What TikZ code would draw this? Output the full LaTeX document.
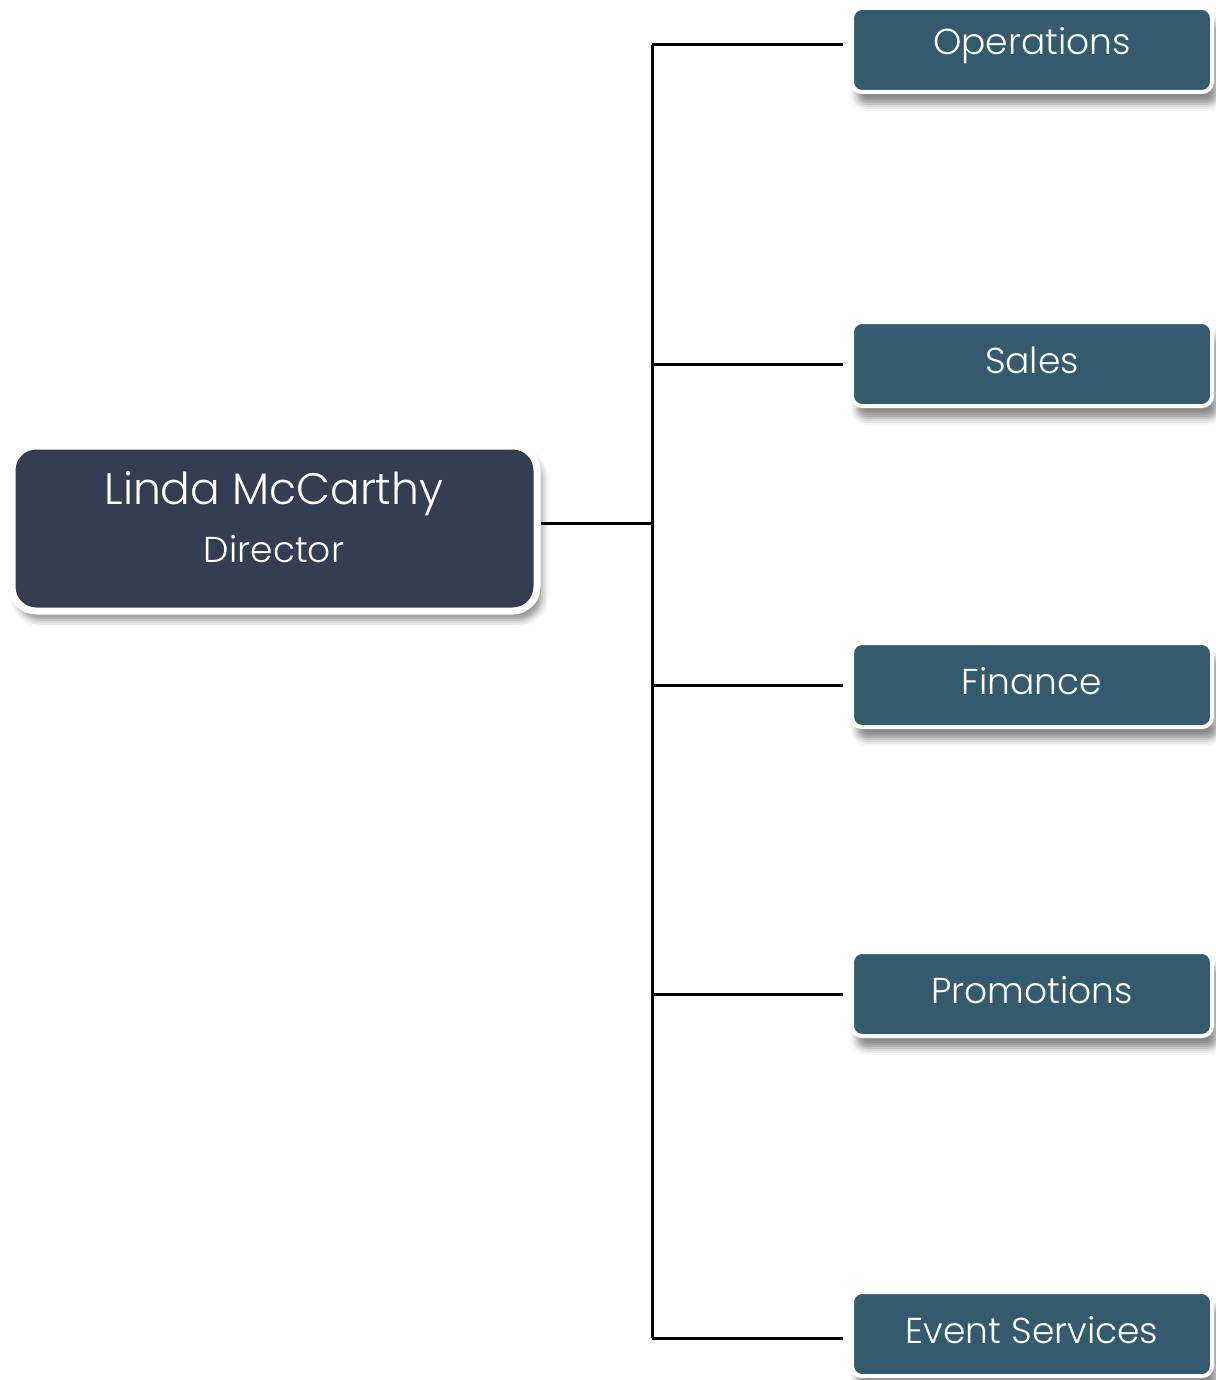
\documentclass[tikz,border=0pt]{standalone}
\usepackage{fontspec}
\setmainfont{Poppins}[UprightFont=* Light]
\usetikzlibrary{shadows.blur}
\definecolor{headfill}{HTML}{343E52}
\definecolor{deptfill}{HTML}{345A6E}
\begin{document}
\begin{tikzpicture}[x=1pt,y=-1pt,
  headbox/.style={rounded corners=24pt, fill=headfill, draw=white, line width=7pt,
    minimum width=525pt, minimum height=165pt, inner sep=0pt, text=white, align=center,
    blur shadow={shadow xshift=5pt, shadow yshift=-9pt, shadow blur radius=7pt, shadow opacity=45}},
  deptbox/.style={rounded corners=10pt, fill=deptfill, draw=white, line width=4pt,
    minimum width=360pt, minimum height=84pt, inner sep=0pt, text=white,
    blur shadow={shadow xshift=5pt, shadow yshift=-12pt, shadow blur radius=7pt, shadow opacity=45}},
  label/.style={text=white, font=\fontsize{36}{40}\selectfont},
  link/.style={line width=3pt, black}]
\useasboundingbox (0,0) rectangle (1215,1380);

% director
\node[headbox] (dir) at (274.5,528.5) {};
\node[text=white, font=\fontsize{44}{48}\selectfont] (dirname) at (274,494) {Linda McCarthy};
\node[label] (dirrole) at (274,549) {Director};

% departments
\node[deptbox] (ops) at (1032,50) {};
\node[deptbox] (sales) at (1032,364) {};
\node[deptbox] (fin) at (1032,685) {};
\node[deptbox] (promo) at (1032,994) {};
\node[deptbox] (event) at (1032,1334) {};
\node[label] (opslbl) at (1032,46) {Operations};
\node[label] (saleslbl) at (1032,360) {Sales};
\node[label] (finlbl) at (1032,681) {Finance};
\node[label] (promolbl) at (1032,990) {Promotions};
\node[label] (eventlbl) at (1032,1330) {Event Services};

% connectors
\coordinate (ttop) at (652,45);
\coordinate (tbot) at (652,1338);
\coordinate (tmid) at (652,523);
\draw[link] (ttop) -- (tbot);
\draw[link] (dir.east |- tmid) -- (tmid);
\draw[link, shorten >=7pt] (ttop) -- (ttop -| ops.west);
\draw[link, shorten >=7pt] (ttop |- sales.west) -- (sales.west);
\draw[link, shorten >=7pt] (ttop |- fin.west) -- (fin.west);
\draw[link, shorten >=7pt] (ttop |- promo.west) -- (promo.west);
\draw[link, shorten >=7pt] (tbot) -- (tbot -| event.west);
\end{tikzpicture}
\end{document}
